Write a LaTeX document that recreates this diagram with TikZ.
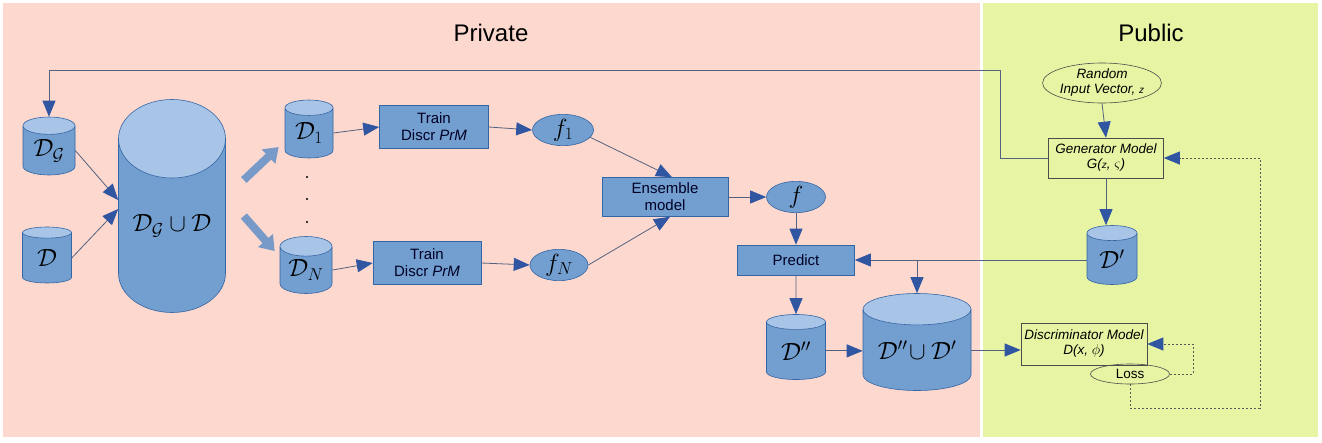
\documentclass[tikz,border=0pt]{standalone}
\usepackage{fontspec}
\setmainfont{Liberation Sans}
\usetikzlibrary{shapes.geometric,arrows.meta,positioning}

\definecolor{privbg}{RGB}{253,216,206}
\definecolor{pubbg}{RGB}{231,244,163}
\definecolor{boxblue}{RGB}{114,159,207}
\definecolor{lineblue}{RGB}{52,101,164}
\definecolor{cyltop}{RGB}{168,197,232}
\definecolor{cylbody}{RGB}{114,159,207}
\definecolor{tipblue}{RGB}{48,86,162}
\definecolor{wire}{RGB}{84,98,128}
\definecolor{fatblue}{RGB}{120,154,201}

\tikzset{
  store/.style={cylinder, shape border rotate=90, draw=lineblue, line width=0.6pt,
    cylinder uses custom fill, cylinder body fill=cylbody, cylinder end fill=cyltop,
    inner sep=0pt, anchor=shape center, font=\fontsize{24}{28}\selectfont},
  procbox/.style={rectangle, draw=lineblue, fill=boxblue, line width=0.6pt,
    align=center, inner sep=0pt, font=\fontsize{15}{17}\selectfont, text=black!85!blue},
  model/.style={ellipse, draw=lineblue, fill=boxblue, line width=0.6pt, inner sep=0pt,
    font=\fontsize{24}{28}\selectfont},
  pubbox/.style={rectangle, draw=black!70, line width=0.6pt, align=center, inner sep=0pt,
    font=\fontsize{13.5}{15}\selectfont\itshape},
  pubell/.style={ellipse, draw=black!70, line width=0.6pt, align=center, inner sep=0pt,
    font=\fontsize{13.5}{15}\selectfont},
  flow/.style={draw=wire, line width=0.8pt, -{Triangle[length=16pt,width=13pt,color=tipblue]}},
  fat/.style={draw=fatblue, line width=8pt, -{Triangle[length=14pt,width=19pt]}},
  lossline/.style={draw=black!65, line width=0.8pt, dash pattern=on 2pt off 2pt,
    -{Triangle[length=16pt,width=13pt,color=tipblue]}},
}

\begin{document}
\begin{tikzpicture}[x=1pt,y=-1pt]
  % Fons
  \useasboundingbox (0,0) rectangle (1322,442);
  \fill[white] (0,0) rectangle (1322,442);
  \fill[privbg] (3,3) rectangle (980,437);
  \fill[pubbg] (983,3) rectangle (1318,437);
  \node[font=\fontsize{24}{28}\selectfont] (priv) at (491,33) {Private};
  \node[font=\fontsize{24}{28}\selectfont] (pub) at (1151,33) {Public};

  % Dades
  \node[store, minimum width=52, minimum height=58, aspect=0.56] (dg) at (49,146) {$\mathcal{D}_{\mathcal{G}}$};
  \node[store, minimum width=49, minimum height=56, aspect=0.56] (d) at (47,255) {$\mathcal{D}$};
  \node[store, minimum width=107, minimum height=213, aspect=1.0] (dgd) at (172,206) {$\mathcal{D}_{\mathcal{G}}\cup\mathcal{D}$};
  \node[store, minimum width=48, minimum height=58, aspect=0.56] (d1) at (309,129) {$\mathcal{D}_1$};
  \node[store, minimum width=52, minimum height=57, aspect=0.56] (dn) at (306,265) {$\mathcal{D}_N$};
  \node[store, minimum width=59, minimum height=65, aspect=0.5] (dpp) at (796,347) {$\mathcal{D}''$};
  \node[store, minimum width=108, minimum height=97, aspect=0.4] (dppd) at (917,342) {$\mathcal{D}''\!\cup\mathcal{D}'$};
  \node[store, minimum width=50, minimum height=59, aspect=0.6] (dp) at (1112,255) {$\mathcal{D}'$};
  \coordinate (dgdw) at (dgd.shape center -| dgd.west);
  \coordinate (dgde) at (dgd.shape center -| dgd.east);

  \foreach \y in {177,199,222} {
    \fill (307,\y) circle (1.2);
  }

  % Models privats
  \node[procbox, minimum width=109, minimum height=43] (tr1) at (434,127) {Train\\Discr \textit{PrM}};
  \node[procbox, minimum width=108, minimum height=43] (trn) at (427,263) {Train\\Discr \textit{PrM}};
  \node[model, minimum width=61, minimum height=29] (f1) at (563,130) {$f_1$};
  \node[model, minimum width=58, minimum height=28] (fn) at (559,265) {$f_N$};
  \node[procbox, minimum width=126, minimum height=39] (ens) at (665,197) {Ensemble\\model};
  \node[model, minimum width=59, minimum height=31] (f) at (796,197) {$f$};
  \node[procbox, minimum width=117, minimum height=30] (pred) at (796,260) {Predict};

  % Part publica
  \node[pubell, minimum width=107, minimum height=40] (rand) at (1102,83)
    {\itshape Random\\\itshape Input Vector, {\fontsize{10}{12}\selectfont z}};
  \node[pubbox, minimum width=115, minimum height=40] (gen) at (1106,158)
    {Generator Model\\G({\fontsize{10}{12}\selectfont z}, $\varsigma$)};
  \node[pubbox, minimum width=126, minimum height=42] (disc) at (1084,344)
    {Discriminator Model\\D(x, $\phi$)};
  \node[pubell, minimum width=79, minimum height=20] (loss) at (1130,374) {Loss};

  % Connexions
  \coordinate (fb) at (1000,70);
  \draw[flow] (gen.west) -| (fb) -| (dg.north);
  \draw[flow] (dg.east) -- ([yshift=6pt]dgdw);
  \draw[flow] (d.east) -- ([yshift=-3pt]dgdw);
  \draw[fat] (dgde) ++(18,-26) -- ([shift={(-6,14)}]d1.west);
  \draw[fat] (dgde) ++(18,10) -- ([shift={(-5,-19)}]dn.west);
  \draw[flow] (d1.east) -- (tr1.west);
  \draw[flow] (dn.east) -- (trn.west);
  \draw[flow] (tr1.east) -- (f1.west);
  \draw[flow] (trn.east) -- (fn.west);
  \draw[flow] (f1.-15) -- ([xshift=7pt]ens.north);
  \draw[flow] (fn.east) -- ([xshift=5pt]ens.south);
  \draw[flow] (ens.east) -- (f.west);
  \draw[flow] (f.south) -- (pred.north);
  \draw[flow] (pred.south) -- (dpp.north);
  \draw[flow] (dpp.east) -- (dpp.east -| dppd.west);
  \draw[flow] (dp.west |- pred.east) -- (pred.east);
  \coordinate (br) at (dppd.north |- pred.east);
  \draw[flow] (br) -- (dppd.north);
  \draw[flow] (dppd.east) -- (dppd.east -| disc.west);
  \draw[flow] (rand.south) -- (gen.north);
  \draw[flow] (gen.south) -- (gen.south |- dp.north);

  % Bucles de la perdua
  \coordinate (lc) at (1193,374);
  \coordinate (lb) at (1260,408);
  \draw[lossline] (loss.east) -- (lc) |- (disc.east);
  \draw[lossline] (loss.south) |- (lb) |- (gen.east);
\end{tikzpicture}
\end{document}
